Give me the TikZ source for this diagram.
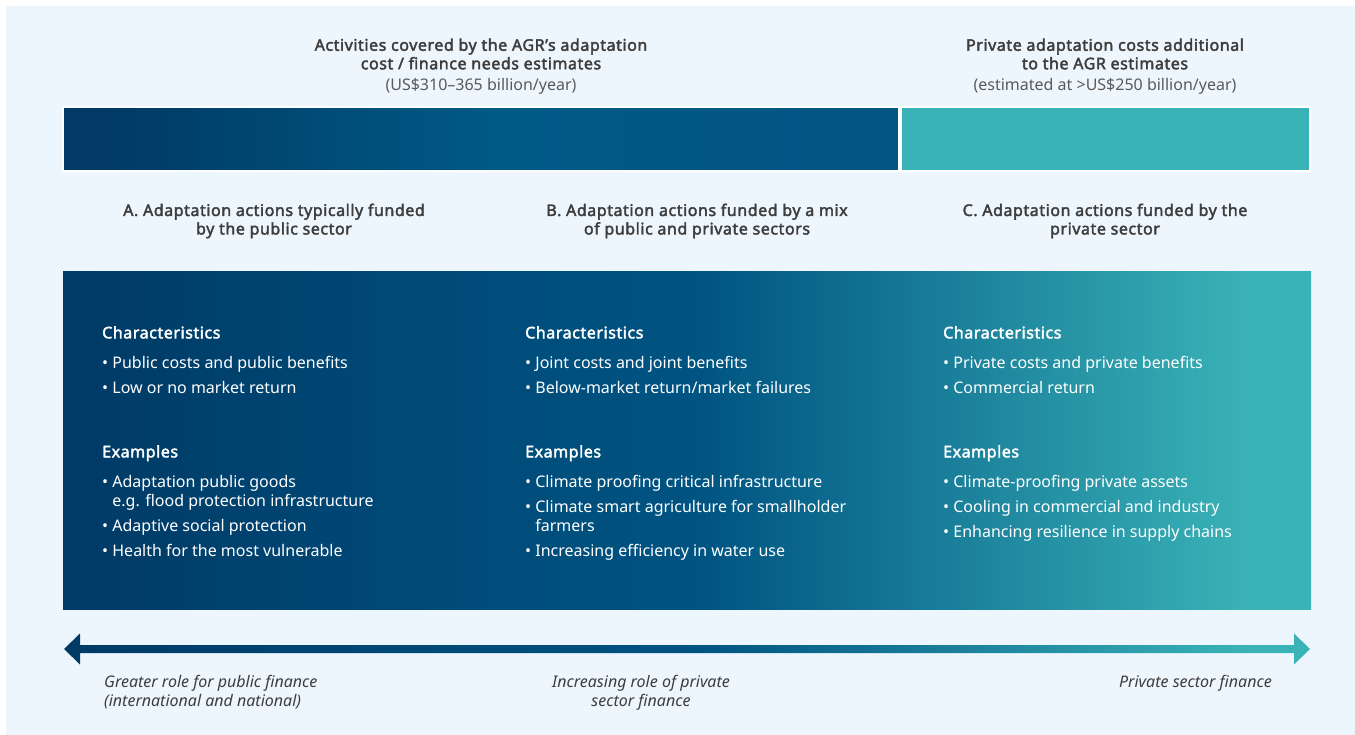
\documentclass[tikz,border=0pt]{standalone}
\usepackage{fontspec}
\setmainfont{Noto Sans}[AutoFakeBold=2.2]
\newfontfamily\headfont{Noto Sans}[FakeBold=2.4,LetterSpace=3.5]
\usepackage{xcolor}
\usetikzlibrary{positioning,calc}

\definecolor{navy}{HTML}{003A65}
\definecolor{navymid}{HTML}{004775}
\definecolor{ocean}{HTML}{005482}
\definecolor{oceanlight}{HTML}{005A86}
\definecolor{oceanend}{HTML}{035584}
\definecolor{lagoon}{HTML}{3AB3B7}
\definecolor{paleblue}{HTML}{EEF6FD}
\definecolor{ink}{HTML}{3D3D3D}
\definecolor{inklight}{HTML}{5A5A5A}

\newcommand{\colhead}[1]{{\headfont #1}}

% 左から右へのグラデーション
\pgfdeclarehorizontalshading{flow}{100bp}{%
  color(0bp)=(navy); color(25bp)=(navy); color(37bp)=(navymid);
  color(50.6bp)=(ocean); color(72.6bp)=(lagoon); color(100bp)=(lagoon)}
\pgfdeclarehorizontalshading{barflow}{100bp}{%
  color(0bp)=(navy); color(27.5bp)=(navy); color(51bp)=(oceanlight);
  color(75bp)=(oceanend); color(100bp)=(oceanend)}

\begin{document}
\begin{tikzpicture}[x=1pt,y=-1pt,
  every node/.style={inner sep=0pt},
  head/.style={font=\headfont\fontsize{16}{18.5}\selectfont,text=ink,align=center},
  note/.style={font=\fontsize{16}{18}\selectfont,text=inklight,align=center},
  items/.style={font=\fontsize{16}{19}\selectfont,text=white,align=left,anchor=north west},
  role/.style={font=\itshape\fontsize{16}{19}\selectfont,text=ink}
]
  \useasboundingbox (0,0) rectangle (1355,735);
  \fill[white] (0,0) rectangle (1355,735);
  \fill[paleblue] (6,6) rectangle (1355,735);

  % 見出し
  \node[head] (costhead) at (481,54)
    {Activities covered by the AGR’s adaptation\\cost / finance needs estimates};
  \node[note] (costnote) at (481,86) {(US\$310–365 billion/year)};
  \node[head] (privhead) at (1105,54)
    {Private adaptation costs additional\\to the AGR estimates};
  \node[note] (privnote) at (1105,86) {(estimated at >US\$250 billion/year)};

  % 上の帯
  \shadedraw[shading=barflow,draw=white,line width=1.5pt]
    (63,107) rectangle (899,171);
  \filldraw[fill=lagoon,draw=white,line width=1.5pt]
    (901,107) rectangle (1310,171);

  % A, B, C
  \node[head] (pubtitle) at (274,221)
    {A. Adaptation actions typically funded\\by the public sector};
  \node[head] (mixtitle) at (697,221)
    {B. Adaptation actions funded by a mix\\of public and private sectors};
  \node[head] (privtitle) at (1105,221)
    {C. Adaptation actions funded by the\\private sector};

  % 本体の箱
  \shade[shading=flow] (63,272) rectangle (1311,609);

  \node[items] (pubchar) at (102,326)
    {\colhead{Characteristics}\\[11pt]
     • Public costs and public benefits\\[6pt]
     • Low or no market return};
  \node[items] (pubex) at (102,445)
    {\colhead{Examples}\\[11pt]
     • Adaptation public goods\\
     \phantom{• }e.g. flood protection infrastructure\\[6pt]
     • Adaptive social protection\\[6pt]
     • Health for the most vulnerable};

  \node[items] (mixchar) at (525,326)
    {\colhead{Characteristics}\\[11pt]
     • Joint costs and joint benefits\\[6pt]
     • Below-market return/market failures};
  \node[items] (mixex) at (525,445)
    {\colhead{Examples}\\[11pt]
     • Climate proofing critical infrastructure\\[6pt]
     • Climate smart agriculture for smallholder\\
     \phantom{• }farmers\\[6pt]
     • Increasing efficiency in water use};

  \node[items] (privchar) at (943,326)
    {\colhead{Characteristics}\\[11pt]
     • Private costs and private benefits\\[6pt]
     • Commercial return};
  \node[items] (privex) at (943,445)
    {\colhead{Examples}\\[11pt]
     • Climate-proofing private assets\\[6pt]
     • Cooling in commercial and industry\\[6pt]
     • Enhancing resilience in supply chains};

  % 両向きの矢印
  \coordinate (ltip) at (64,649);
  \coordinate (rtip) at (1310,649);
  \shade[shading=flow]
    (ltip) -- ++(16,-15.5) -- ++(0,11.5) -- ($(rtip)+(-16,-4)$)
    -- ++(0,-11.5) -- (rtip) -- ++(-16,15.5) -- ++(0,-11.5)
    -- ($(ltip)+(16,4)$) -- ++(0,11.5) -- cycle;

  % 下のラベル
  \node[role,align=left,anchor=west] (publabel) at (104,692.5)
    {Greater role for public finance\\(international and national)};
  \node[role,align=center] (mixlabel) at (641,692.5)
    {Increasing role of private\\sector finance};
  \node[role,anchor=east] (privlabel) at (1272,683)
    {Private sector finance};
\end{tikzpicture}
\end{document}
